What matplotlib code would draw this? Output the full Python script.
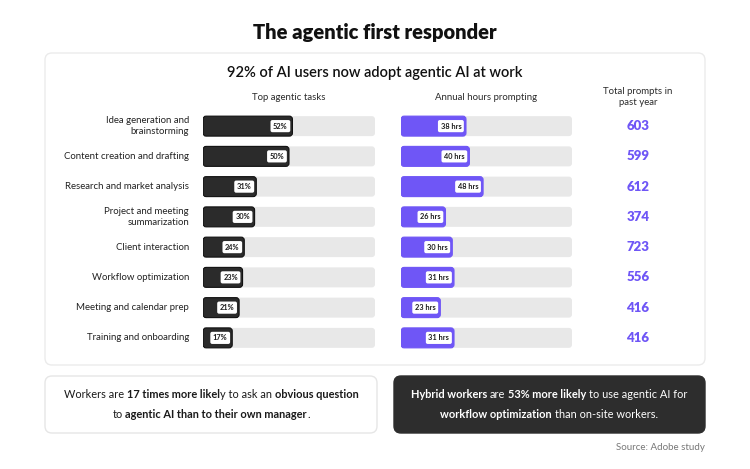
import matplotlib.pyplot as plt
from matplotlib.patches import FancyBboxPatch
from matplotlib.transforms import blended_transform_factory

plt.rcParams['font.family'] = ['Lato', 'DejaVu Sans']

# data
tasks = ["Idea generation and\nbrainstorming", "Content creation and drafting",
         "Research and market analysis", "Project and meeting\nsummarization",
         "Client interaction", "Workflow optimization",
         "Meeting and calendar prep", "Training and onboarding"]
task_share = [52, 50, 31, 30, 24, 23, 21, 17]
hours = [38, 40, 48, 26, 30, 31, 23, 31]
prompts = [603, 599, 612, 374, 723, 556, 416, 416]

DARK = '#2b2b2b'
PURPLE = '#6f56f6'
TRACK = '#e8e8e8'

W, H = 750, 469
fig = plt.figure(figsize=(7.5, 4.69), dpi=100)
fig.patch.set_facecolor('white')

bg = fig.add_axes([0, 0, 1, 1])
bg.set_xlim(0, W)
bg.set_ylim(H, 0)
bg.axis('off')


def rect(x0, y0, x1, y1):
    return [x0 / W, 1 - y1 / H, (x1 - x0) / W, (y1 - y0) / H]


def card(x0, y0, x1, y1, fc, ec):
    bg.add_patch(FancyBboxPatch((x0, y0), x1 - x0, y1 - y0,
                                boxstyle="round,pad=0,rounding_size=7",
                                fc=fc, ec=ec, lw=1))


bg.text(375, 33, "The agentic first responder", ha='center', va='center',
        fontsize=14.5, fontweight='heavy', color='#111111')

card(45, 53, 705, 365, 'white', '#ebebeb')
bg.text(375, 73, "92% of AI users now adopt agentic AI at work", ha='center',
        va='center', fontsize=10.5, fontweight='semibold', color='#111111')

bg.text(289, 98, "Top agentic tasks", ha='center', va='center', fontsize=6.9, color='#2a2a2a')
bg.text(486, 98, "Annual hours prompting", ha='center', va='center', fontsize=6.9, color='#2a2a2a')
bg.text(638, 97, "Total prompts in\npast year", ha='center', va='center', fontsize=6.9,
        color='#2a2a2a', linespacing=1.35)


def bar_panel(x0, x1, values, color, edge, fmt):
    ax = fig.add_axes(rect(x0, 111, x1, 353))
    ax.set_xlim(0, 100)
    ax.set_ylim(7.5, -0.5)
    ax.axis('off')
    rows = range(len(values))
    # px -> data scaling for rounded corners
    aspect = (8 / 242) / (100 / (x1 - x0))
    for bars, c, e in [(ax.barh(rows, [100] * len(values), height=0.66), TRACK, 'none'),
                       (ax.barh(rows, values, height=0.66), color, edge)]:
        for b in bars:
            x, y = b.get_xy()
            ax.add_patch(FancyBboxPatch((x, y), b.get_width(), b.get_height(),
                                        boxstyle="round,pad=0,rounding_size=1.8",
                                        mutation_aspect=aspect, fc=c, ec=e, lw=0.8))
            b.remove()
    for i, v in enumerate(values):
        ax.annotate(fmt(v), (v, i), xytext=(-3.4, 0), textcoords='offset points',
                    ha='right', va='center', fontsize=5.3, fontweight='bold', color='#1a1a1a',
                    bbox=dict(boxstyle='round,pad=0.35,rounding_size=0.25', fc='white', ec='none'))
    return ax


ax1 = bar_panel(203, 375, task_share, DARK, '#111111', lambda v: f"{v}%")
ax2 = bar_panel(401, 572, hours, PURPLE, PURPLE, lambda v: f"{v} hrs")

tr = blended_transform_factory(ax1.transAxes, ax1.transData)
for i, t in enumerate(tasks):
    ax1.text(-0.081, i, t, transform=tr, ha='right', va='center', multialignment='right',
             fontsize=6.9, color='#222222', linespacing=1.3)

tr2 = blended_transform_factory(bg.transData, ax1.transData)
for i, p in enumerate(prompts):
    bg.text(638, i, str(p), transform=tr2, ha='center', va='center', fontsize=9.5,
            fontweight='heavy', color=PURPLE)

# bottom call-outs
card(45, 376, 377, 433, 'white', '#e6e6e6')
card(394, 376, 705, 433, '#2d2d2d', '#2d2d2d')

renderer = fig.canvas.get_renderer()


def width_of(s, bold, size):
    t = bg.text(0, 0, s, fontsize=size, fontweight='bold' if bold else 'normal')
    w = t.get_window_extent(renderer).width
    t.remove()
    return w


def rich_line(xc, y, parts, color, size=7.9):
    sp = width_of("a a", False, size) - width_of("aa", False, size)
    items = []
    total = 0
    for s, bold in parts:
        lead = len(s) - len(s.lstrip(' '))
        trail = len(s) - len(s.rstrip(' '))
        core = s.strip(' ')
        w = width_of(core, bold, size)
        items.append((core, bold, total + lead * sp))
        total += lead * sp + w + trail * sp
    x = xc - total / 2
    for core, bold, off in items:
        bg.text(x + off, y, core, ha='left', va='center', fontsize=size, color=color,
                fontweight='bold' if bold else 'normal')


rich_line(211, 395, [("Workers are ", False), ("17 times more likel", True),
                     ("y to ask an ", False), ("obvious question", True)], '#1a1a1a')
rich_line(211, 414, [("to ", False), ("agentic AI than to their own manager", True), (".", False)], '#1a1a1a')
rich_line(549, 395, [("Hybrid workers", True), (" are ", False), ("53% more likely", True),
                     (" to use agentic AI for", False)], 'white')
rich_line(549, 414, [("workflow optimization", True), (" than on-site workers.", False)], 'white')

bg.text(705, 447, "Source: Adobe study", ha='right', va='center', fontsize=7, color='#777777')

fig.savefig('out.png', dpi=100, facecolor='white')
